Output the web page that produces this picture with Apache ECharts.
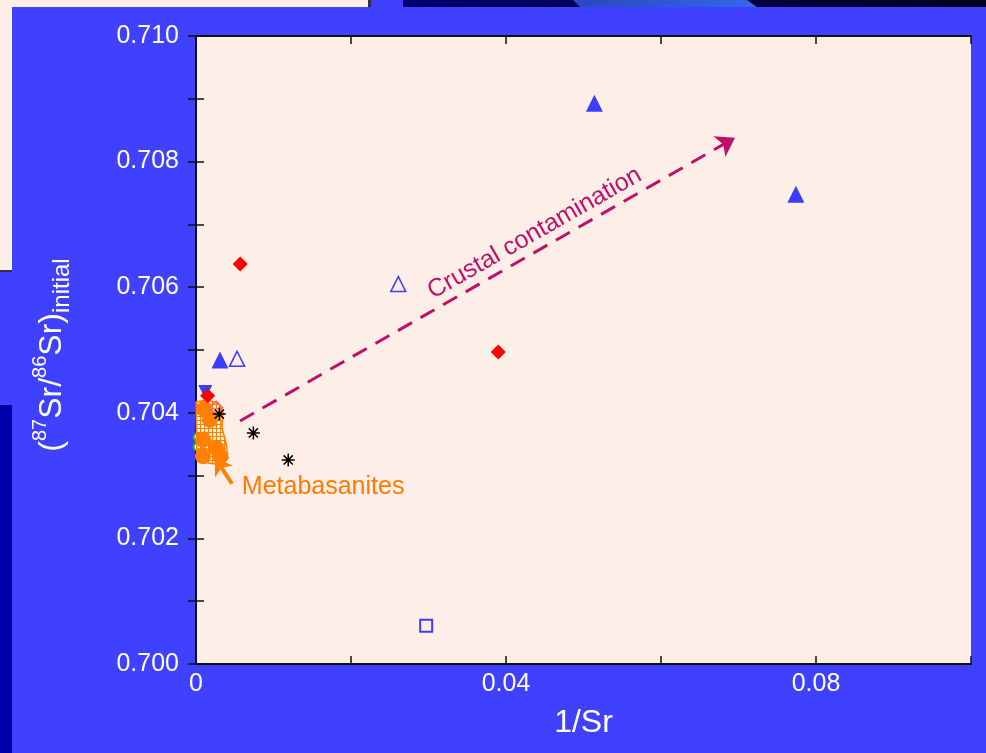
<!DOCTYPE html>
<html><head><meta charset="utf-8">
<script src="https://cdn.jsdelivr.net/npm/echarts@6/dist/echarts.min.js"></script>
<style>html,body{margin:0;padding:0;background:#4040FF;}#c{width:986px;height:753px;}</style>
</head><body><div id="c"></div>
<script>
// ---- data ----
const xTicks = ['0', '0.04', '0.08'];
const triFilledX = [0.0514, 0.0774, 0.0031];
const triFilledY = [0.70893, 0.70748, 0.70484];
const triDownX = [0.0012];
const triDownY = [0.70433];
const triOpenX = [0.0053, 0.0261];
const triOpenY = [0.70486, 0.70605];
const diamondX = [0.0057, 0.0390, 0.0015];
const diamondY = [0.70637, 0.70497, 0.70427];
const diamondOpenX = [0.0026];
const diamondOpenY = [0.70408];
const asteriskX = [0.0030, 0.0074, 0.0119];
const asteriskY = [0.70398, 0.70368, 0.70325];
const squareX = [0.0297];
const squareY = [0.70061];
const metaX = [0.00103, 0.00181, 0.0009, 0.00258, 0.0009, 0.0031];
const metaY = [0.70406, 0.70389, 0.70357, 0.70344, 0.70331, 0.70331];
const greenX = [0.0002, 0.0002];
const greenY = [0.70361, 0.70346];
const hatchX = [0, 0.00129, 0.00284, 0.00348, 0.00335, 0.00387, 0.00413, 0.00348, 0.00155, 0.00013];
const hatchY = [0.704172, 0.704204, 0.704156, 0.704013, 0.703758, 0.703519, 0.70328, 0.703169, 0.703201, 0.703248];
const trendX = [0.00568, 0.06955];
const trendY = [0.70387, 0.70838];
const metaArrowX = [0.00465, 0.00245];
const metaArrowY = [0.70287, 0.70328];
const crustLabel = {x: 0.0437, y: 0.70686, text: 'Crustal contamination'};
const metaLabel = {x: 0.0164, y: 0.70282, text: 'Metabasanites'};

const zip = (xs, ys) => xs.map((x, i) => [x, ys[i]]);

// pattern for hatched field
const pc = document.createElement('canvas');
pc.width = 4; pc.height = 4;
const pctx = pc.getContext('2d');
pctx.fillStyle = '#FF7F00';
pctx.fillRect(0, 0, 4, 1);
pctx.fillRect(0, 0, 1, 4);

const chart = echarts.init(document.getElementById('c'), null, {renderer: 'canvas'});
const FONT = 'Liberation Sans';
const axisLine = {show: true, lineStyle: {color: '#111', width: 2}};
const axisTick = {show: true, inside: true, length: 8, lineStyle: {color: '#111', width: 1.5}};

const option = {
  backgroundColor: '#4040FF',
  animation: false,
  graphic: [
    {type: 'rect', shape: {x: 0, y: 0, width: 368, height: 7}, style: {fill: '#FDEFE7'}, z: -10},
    {type: 'rect', shape: {x: 368, y: 0, width: 3, height: 7}, style: {fill: '#303040'}, z: -10},
    {type: 'rect', shape: {x: 0, y: 0, width: 12, height: 271}, style: {fill: '#FDEFE7'}, z: -10},
    {type: 'rect', shape: {x: 0, y: 270, width: 12, height: 2}, style: {fill: '#303040'}, z: -10},
    {type: 'rect', shape: {x: 0, y: 405, width: 12, height: 348}, style: {fill: '#0000AA'}, z: -10},
    {type: 'rect', shape: {x: 403, y: 0, width: 583, height: 7},
      style: {fill: new echarts.graphic.LinearGradient(0, 0, 1, 0, [{offset: 0, color: '#000070'}, {offset: 1, color: '#000020'}])}, z: -10},
    {type: 'polygon', shape: {points: [[573, 0], [580, 7], [757, 7], [747, 0]]},
      style: {fill: new echarts.graphic.LinearGradient(0, 0, 1, 0, [{offset: 0, color: '#2848C0'}, {offset: 1, color: '#3468E8'}])}, z: -9}
  ],
  grid: {left: 196, right: 15, top: 36, bottom: 89, show: true, backgroundColor: '#FDEFE7', borderWidth: 0},
  xAxis: [
    {type: 'value', min: 0, max: 0.1, interval: 0.02, position: 'bottom',
      axisLine, axisTick, splitLine: {show: false},
      axisLabel: {color: '#fff', fontFamily: FONT, fontSize: 25, margin: 8,
        formatter: v => { const k = Math.round(v / 0.02); return (k % 2 === 0 && k / 2 < xTicks.length) ? xTicks[k / 2] : ''; }},
      name: '1/Sr', nameLocation: 'middle', nameGap: 43,
      nameTextStyle: {color: '#fff', fontFamily: FONT, fontSize: 32}},
    {type: 'value', min: 0, max: 0.1, interval: 0.02, position: 'top',
      axisLine, axisTick, splitLine: {show: false}, axisLabel: {show: false}}
  ],
  yAxis: [
    {type: 'value', min: 0.700, max: 0.710, interval: 0.001, position: 'left',
      axisLine, axisTick, splitLine: {show: false},
      axisLabel: {color: '#fff', fontFamily: FONT, fontSize: 25, margin: 17,
        formatter: v => { const k = Math.round((v - 0.7) * 1000); return k % 2 === 0 ? v.toFixed(3) : ''; }},
      name: '{p|(}{sup|87}{p|Sr/}{sup|86}{p|Sr)}{sub|initial}',
      nameLocation: 'middle', nameGap: 122, nameRotate: 90,
      nameTextStyle: {color: '#fff', fontFamily: FONT, padding: [0, 10, 0, 0],
        rich: {
          p: {color: '#fff', fontFamily: FONT, fontSize: 32, lineHeight: 44, verticalAlign: 'middle'},
          sup: {color: '#fff', fontFamily: FONT, fontSize: 20, lineHeight: 20, verticalAlign: 'top'},
          sub: {color: '#fff', fontFamily: FONT, fontSize: 24, lineHeight: 24, verticalAlign: 'bottom'}
        }}},
    {type: 'value', min: 0.700, max: 0.710, interval: 0.001, position: 'right',
      axisLine, axisTick, splitLine: {show: false}, axisLabel: {show: false}}
  ],
  series: [
    {type: 'scatter', name: 'field', data: zip(greenX, greenY), symbol: 'emptyCircle', symbolSize: 8,
      itemStyle: {color: '#20B020', borderColor: '#20B020', borderWidth: 1.5, opacity: 1}, z: 2},
    {type: 'scatter', name: 'metabasanite', data: zip(metaX, metaY), symbol: 'circle', symbolSize: 16,
      itemStyle: {color: '#FF7F00', opacity: 1}, z: 3},
    {type: 'custom', name: 'hatch', data: zip(hatchX, hatchY), z: 4,
      renderItem: (params, api) => {
        if (params.dataIndex !== 0) return null;
        const pts = hatchX.map((x, i) => api.coord([x, hatchY[i]]));
        return {type: 'polygon', shape: {points: pts},
          style: {fill: {image: pc, repeat: 'repeat'}, stroke: '#FF7F00', lineWidth: 1.5}};
      }},
    {type: 'lines', coordinateSystem: 'cartesian2d', name: 'metaArrow', z: 5,
      data: [{coords: zip(metaArrowX, metaArrowY)}],
      symbol: ['none', 'arrow'], symbolSize: [0, 16],
      lineStyle: {color: '#FF7F00', width: 4, opacity: 1}},
    {type: 'scatter', name: 'triDown', data: zip(triDownX, triDownY), symbol: 'triangle', symbolRotate: 180, symbolSize: 14,
      itemStyle: {color: '#3C3CFF', opacity: 1}, z: 6},
    {type: 'scatter', name: 'diamondOpen', data: zip(diamondOpenX, diamondOpenY), symbol: 'diamond', symbolSize: 13,
      itemStyle: {color: 'transparent', borderColor: '#FF6070', borderWidth: 1.5, opacity: 1}, z: 6},
    {type: 'scatter', name: 'diamond', data: zip(diamondX, diamondY), symbol: 'diamond', symbolSize: 15,
      itemStyle: {color: '#FF0000', opacity: 1}, z: 7},
    {type: 'scatter', name: 'triFilled', data: zip(triFilledX, triFilledY), symbol: 'triangle', symbolSize: 17,
      itemStyle: {color: '#3C3CFF', opacity: 1}, z: 7},
    {type: 'scatter', name: 'triOpen', data: zip(triOpenX, triOpenY), symbol: 'triangle', symbolSize: 15,
      itemStyle: {color: 'transparent', borderColor: '#3C3CFF', borderWidth: 1.5, opacity: 1}, z: 7},
    {type: 'scatter', name: 'asterisk', data: zip(asteriskX, asteriskY),
      symbol: 'path://M10,0L10,20M0,10L20,10M3,3L17,17M3,17L17,3', symbolSize: 13,
      itemStyle: {color: 'transparent', borderColor: '#000', borderWidth: 1.5, opacity: 1}, z: 7},
    {type: 'scatter', name: 'square', data: zip(squareX, squareY), symbol: 'rect', symbolSize: 12,
      itemStyle: {color: 'transparent', borderColor: '#3C3CFF', borderWidth: 2, opacity: 1}, z: 7},
    {type: 'lines', coordinateSystem: 'cartesian2d', name: 'trend', z: 8,
      data: [{coords: zip(trendX, trendY)}],
      symbol: ['none', 'arrow'], symbolSize: [0, 18],
      lineStyle: {color: '#C0106A', width: 3, type: [16, 10], opacity: 1}},
    {type: 'scatter', name: 'labels', z: 9, symbolSize: 0, silent: true,
      itemStyle: {opacity: 1},
      data: [
        {value: [crustLabel.x, crustLabel.y], label: {show: true, position: 'inside', formatter: crustLabel.text, rotate: 29.7,
          color: '#C0106A', fontFamily: FONT, fontSize: 25}},
        {value: [metaLabel.x, metaLabel.y], label: {show: true, position: 'inside', formatter: metaLabel.text,
          color: '#FF7A00', fontFamily: FONT, fontSize: 25}}
      ]}
  ]
};
chart.setOption(option);
</script>
</body></html>
